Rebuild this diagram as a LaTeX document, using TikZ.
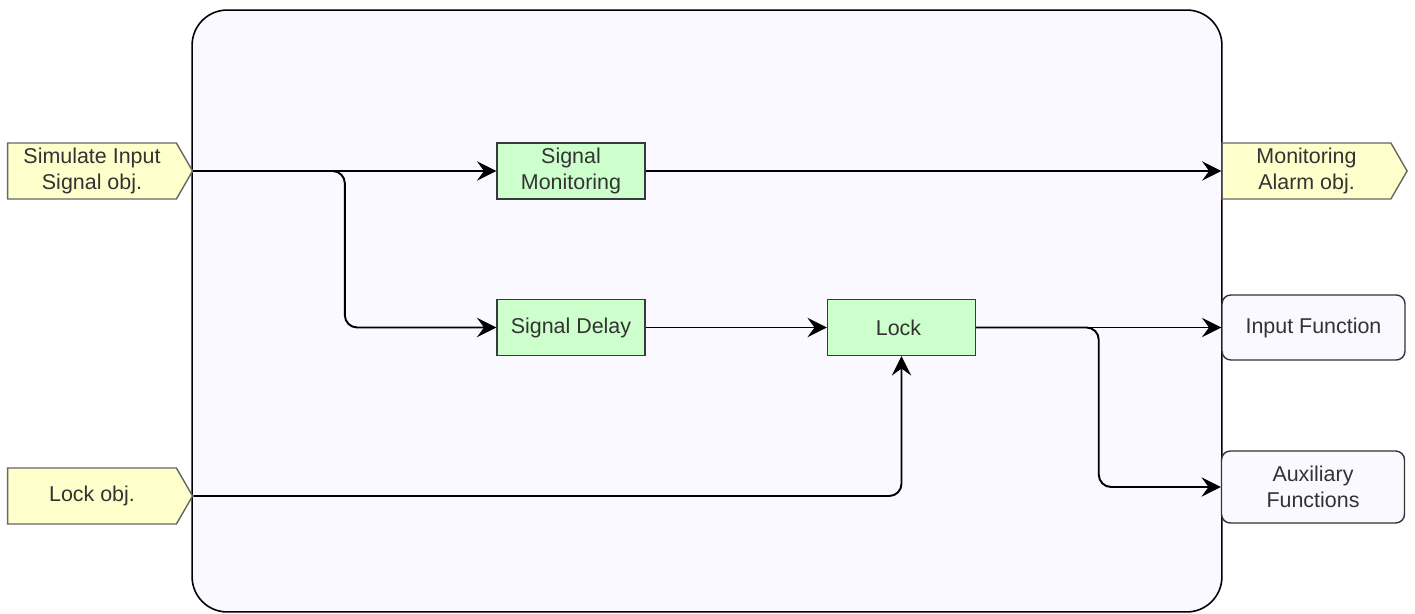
\documentclass[tikz,border=0pt]{standalone}
\usepackage{fontspec}
\setmainfont{Liberation Sans}
\usetikzlibrary{shapes.symbols,arrows.meta,calc}
\definecolor{blkfill}{HTML}{F9F9FF}
\definecolor{objfill}{HTML}{FFFFCC}
\definecolor{objline}{HTML}{666666}
\definecolor{fnfill}{HTML}{CCFFCC}
\definecolor{fnline}{HTML}{36393D}
\definecolor{txtgray}{HTML}{333333}
\begin{document}
\begin{tikzpicture}[x=0.02cm,y=-0.02cm,
        every node/.style={font=\fontsize{12.2}{14.8}\selectfont, text=txtgray, align=center},
        objbox/.style={shape=signal, signal to=east, signal pointer angle=120, draw=objline, fill=objfill,
            line width=0.8pt, minimum width=3.7cm, minimum height=1.12cm, inner sep=0pt},
        funcbox/.style={draw=fnline, fill=fnfill, line width=0.8pt, minimum width=2.96cm,
            minimum height=1.12cm, inner sep=0pt},
        outbox/.style={draw=txtgray, fill=blkfill, line width=0.8pt, rounded corners=5pt,
            minimum width=3.66cm, inner sep=0pt},
        flow/.style={-{Stealth[length=11pt,width=11pt,inset=4pt]}, line width=1.1pt, rounded corners=7pt}]
        \useasboundingbox (0,0) rectangle (1415,614);

        % Draw the outer block
        \node[draw, line width=0.9pt, fill=blkfill, rounded corners=20pt,
            minimum width=20.6cm, minimum height=12.04cm] (blk) at (707,311) {};

        % Input and output objects
        \node[objbox] (sim) at (92,171) {Simulate Input\\Signal obj.};
        \node[objbox] (lockobj) at (92,496) {Lock obj.};
        \node[objbox] (alarm) at (1306.5,171) {Monitoring\\Alarm obj.};

        % Function blocks
        \foreach \name/\x/\y/\label in {
            mon/571/171/Signal\\Monitoring,
            delay/571/327.5/Signal Delay,
            lock/901.5/327.5/Lock
        } {
            \node[funcbox] (\name) at (\x,\y) {\label};
        }

        % Outgoing functions
        \node[outbox, minimum height=1.3cm] (infn) at (1313.5,327.5) {Input Function};
        \node[outbox, minimum height=1.44cm] (aux) at (1313,487) {Auxiliary\\Functions};

        % Add signal flow
        \draw[flow] (sim.east) -- (mon.west);
        \draw[flow] (sim.east) -- ($(sim.east)!0.5!(mon.west)$) |- (delay.west);
        \draw[flow] (delay.east) -- (lock.west);
        \draw[flow] (lockobj.east) -| (lock.south);
        \draw[flow] (lock.east) -- (infn.west);
        \draw[flow] (lock.east) -- ($(lock.east)!0.5!(infn.west)$) |- (aux.west);
        \draw[flow] (mon.east) -- (alarm.west);
    \end{tikzpicture}
\end{document}
